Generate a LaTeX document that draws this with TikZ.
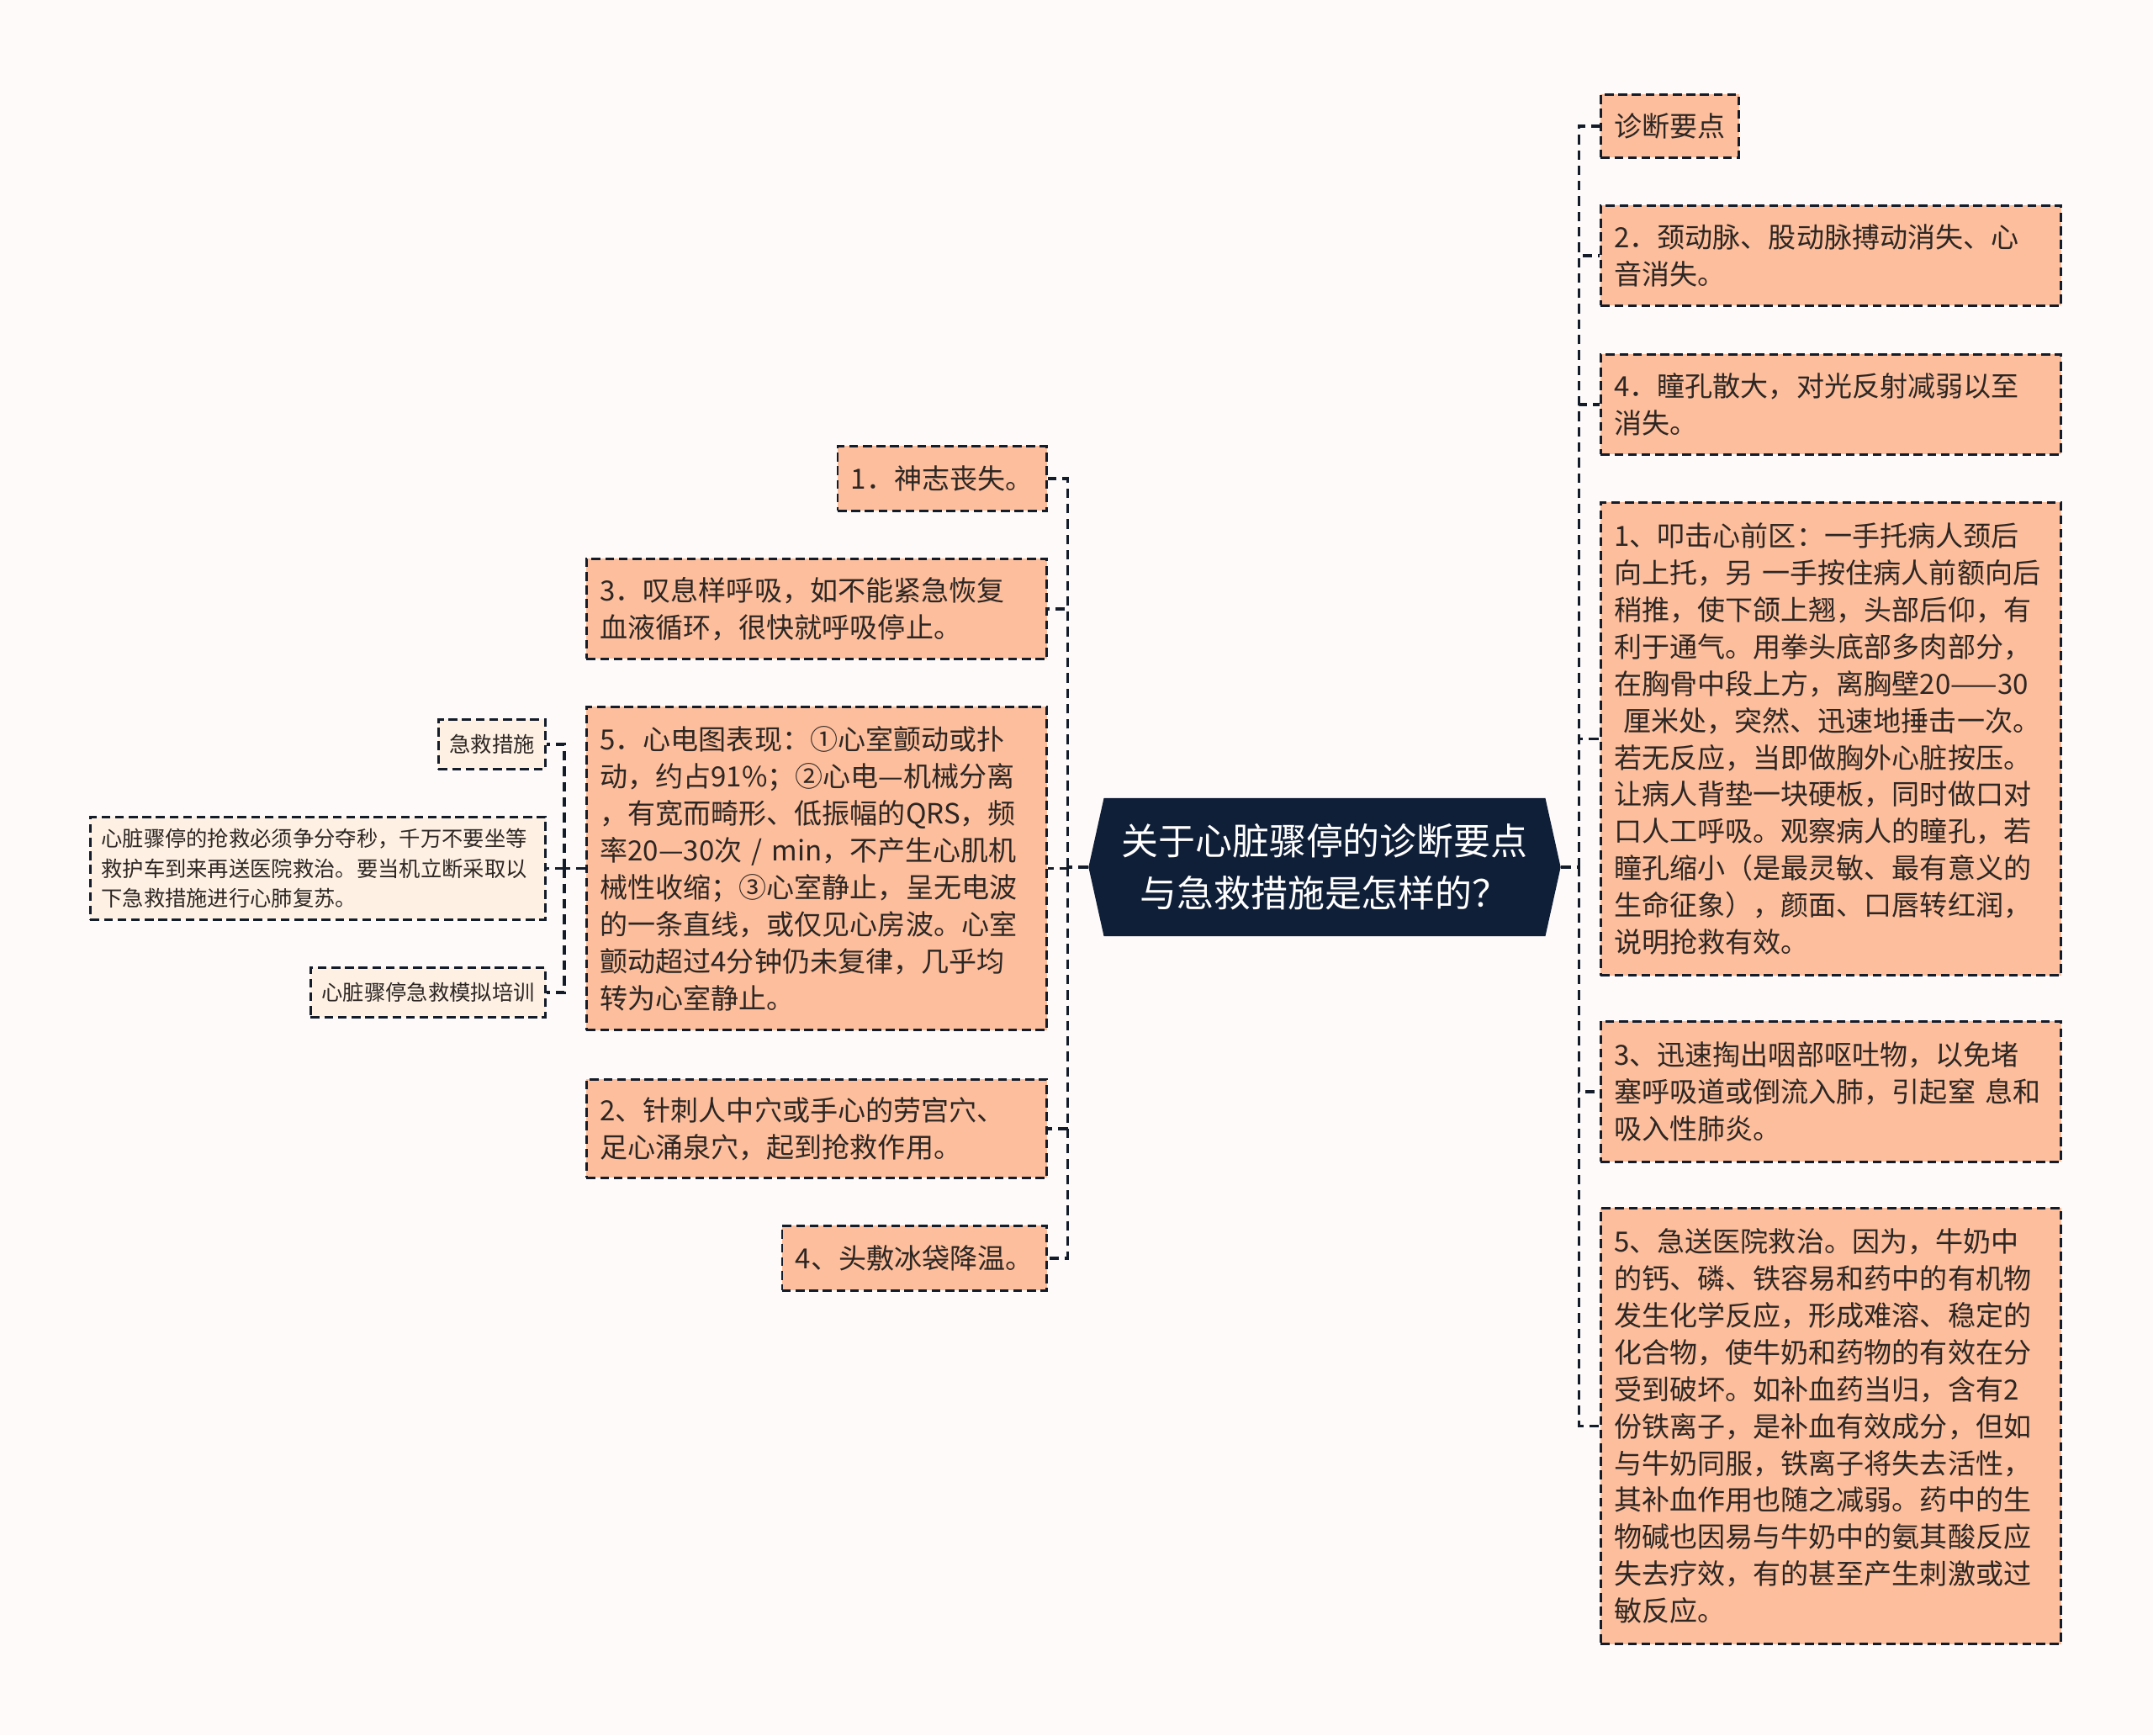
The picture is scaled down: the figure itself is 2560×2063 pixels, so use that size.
\documentclass[tikz,border=0pt]{standalone}
\usepackage{fontspec}
\setmainfont{Noto Sans CJK SC}
\usetikzlibrary{shapes.symbols}
\definecolor{bgpaper}{RGB}{253,250,249}
\definecolor{salmon}{RGB}{252,190,156}
\definecolor{cream}{RGB}{254,241,228}
\definecolor{navy}{RGB}{16,31,56}
\definecolor{linecol}{RGB}{20,28,42}
\definecolor{textcol}{RGB}{45,38,35}
\tikzset{
  leaf/.style={draw=linecol, line width=0.75pt, dash pattern=on 3pt off 1.6pt,
    fill=salmon, text=textcol, inner xsep=0.16cm, inner ysep=0pt,
    font=\fontsize{9.4pt}{12.5pt}\selectfont},
  longleaf/.style={leaf, text width=5.15cm, align=left},
  smallleaf/.style={leaf, fill=cream, inner xsep=0.13cm,
    font=\fontsize{7.2pt}{10pt}\selectfont},
  link/.style={draw=linecol, line width=1pt, dash pattern=on 3.2pt off 2pt},
}
\begin{document}
\begin{tikzpicture}[x=0.01cm,y=-0.01cm]
\useasboundingbox (0,0) rectangle (2560,2063);
\fill[bgpaper] (0,0) rectangle (2560,2063);

\node[shape=signal, signal to=west and east, signal pointer angle=155,
  fill=navy, text=white, align=center, minimum width=5.61cm, minimum height=1.64cm,
  font=\fontsize{12.5pt}{17.6pt}\selectfont] (root) at (1575,1031)
  {关于心脏骤停的诊断要点\\与急救措施是怎样的？};

% right
\node[leaf, anchor=north west, minimum height=0.75cm] (r1) at (1902,111) {诊断要点};
\node[longleaf, anchor=north west, minimum height=1.19cm] (r2) at (1902,243)
  {2．颈动脉、股动脉搏动消失、心\\音消失。};
\node[longleaf, anchor=north west, minimum height=1.19cm] (r3) at (1902,420)
  {4．瞳孔散大，对光反射减弱以至\\消失。};
\node[longleaf, anchor=north west, minimum height=5.62cm] (r4) at (1902,596)
  {1、叩击心前区：一手托病人颈后\\向上托，另~一手按住病人前额向后\\稍推，使下颌上翘，头部后仰，有\\利于通气。用拳头底部多肉部分，\\在胸骨中段上方，离胸壁20——30\\~厘米处，突然、迅速地捶击一次。\\若无反应，当即做胸外心脏按压。\\让病人背垫一块硬板，同时做口对\\口人工呼吸。观察病人的瞳孔，若\\瞳孔缩小（是最灵敏、最有意义的\\生命征象），颜面、口唇转红润，\\说明抢救有效。};
\node[longleaf, anchor=north west, minimum height=1.67cm] (r5) at (1902,1213)
  {3、迅速掏出咽部呕吐物，以免堵\\塞呼吸道或倒流入肺，引起窒~息和\\吸入性肺炎。};
\node[longleaf, anchor=north west, minimum height=5.18cm] (r6) at (1902,1435)
  {5、急送医院救治。因为，牛奶中\\的钙、磷、铁容易和药中的有机物\\发生化学反应，形成难溶、稳定的\\化合物，使牛奶和药物的有效在分\\受到破坏。如补血药当归，含有2\\份铁离子，是补血有效成分，但如\\与牛奶同服，铁离子将失去活性，\\其补血作用也随之减弱。药中的生\\物碱也因易与牛奶中的氨其酸反应\\失去疗效，有的甚至产生刺激或过\\敏反应。};

% left
\node[leaf, anchor=north east, minimum height=0.77cm] (l1) at (1246,529) {1．神志丧失。};
\node[longleaf, anchor=north east, minimum height=1.19cm] (l2) at (1246,663)
  {3．叹息样呼吸，如不能紧急恢复\\血液循环，很快就呼吸停止。};
\node[longleaf, anchor=north east, minimum height=3.84cm] (l3) at (1246,839)
  {5．心电图表现：①心室颤动或扑\\动，约占91\%；②心电—机械分离\\，有宽而畸形、低振幅的QRS，频\\率20—30次~/~min，不产生心肌机\\械性收缩；③心室静止，呈无电波\\的一条直线，或仅见心房波。心室\\颤动超过4分钟仍未复律，几乎均\\转为心室静止。};
\node[longleaf, anchor=north east, minimum height=1.17cm] (l4) at (1246,1282)
  {2、针刺人中穴或手心的劳宫穴、\\足心涌泉穴，起到抢救作用。};
\node[leaf, anchor=north east, minimum height=0.77cm] (l5) at (1246,1456) {4、头敷冰袋降温。};

\node[smallleaf, anchor=north east, minimum height=0.59cm] (s1) at (650,854) {急救措施};
\node[smallleaf, anchor=north east, minimum height=1.22cm, text width=5.15cm, align=left] (s2) at (650,970)
  {心脏骤停的抢救必须争分夺秒，千万不要坐等\\救护车到来再送医院救治。要当机立断采取以\\下急救措施进行心肺复苏。};
\node[smallleaf, anchor=north east, minimum height=0.59cm] (s3) at (650,1149) {心脏骤停急救模拟培训};

% links
\draw[link] (root.east) -- ++(21,0) coordinate (rtrunk);
\foreach \n in {r1,r2,r3,r4,r5,r6}
  \draw[link] (rtrunk) |- (\n.west);
\draw[link] (root.west) -- ++(-24,0) coordinate (ltrunk);
\foreach \n in {l1,l2,l3,l4,l5}
  \draw[link] (ltrunk) |- (\n.east);
\draw[link] (l3.west) -- ++(-25,0) coordinate (strunk);
\foreach \n in {s1,s2,s3}
  \draw[link] (strunk) |- (\n.east);
\end{tikzpicture}
\end{document}
